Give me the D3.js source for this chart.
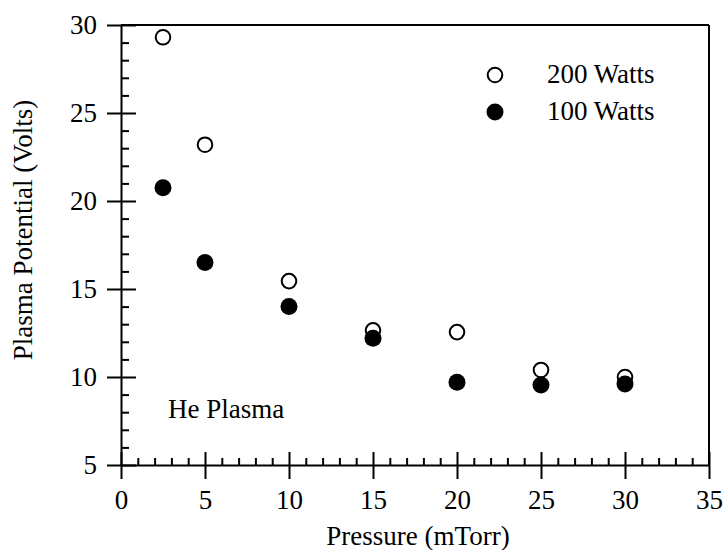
<!DOCTYPE html>
<html>
<head>
<meta charset="utf-8">
<script src="https://cdn.jsdelivr.net/npm/d3@7"></script>
<style>
  body { margin: 0; background: #fff; }
  svg { display: block; }
  svg text { font-family: "Liberation Serif", "Times New Roman", serif !important; fill: #000; }
  .axis path, .axis line { stroke: #000; stroke-width: 2; }
</style>
</head>
<body>
<svg id="chart" width="725" height="550" font-family="Liberation Serif"></svg>
<script>
// pressure (mTorr)
const pressure = [2.5, 5, 10, 15, 20, 25, 30];
// plasma potential (Volts)
const watts200 = [29.3, 23.2, 15.45, 12.65, 12.55, 10.4, 10.0];
const watts100 = [20.75, 16.5, 14.0, 12.2, 9.7, 9.55, 9.6];

const xTicks = [0, 5, 10, 15, 20, 25, 30, 35];
const yTicks = [5, 10, 15, 20, 25, 30];
const legendLabels = ["200 Watts", "100 Watts"];

const serif = "'Liberation Serif', 'Times New Roman', serif";
const svg = d3.select("#chart");
const plotL = 121, plotR = 709, plotT = 25, plotB = 465;

const x = d3.scaleLinear().domain([0, 35]).range([plotL, plotR]);
const y = d3.scaleLinear().domain([5, 30]).range([plotB, plotT]);

const xMinor = d3.range(0, 35, 1).filter(d => d % 5 != 0);
const yMinor = d3.range(5, 30, 1).filter(d => d % 5 != 0);

// frame top & right
svg.append("line")
    .attr("x1", plotL).attr("x2", plotR).attr("y1", plotT).attr("y2", plotT)
    .attr("stroke", "#000").attr("stroke-width", 2);
svg.append("line")
    .attr("x1", plotR).attr("x2", plotR).attr("y1", plotT).attr("y2", plotB)
    .attr("stroke", "#000").attr("stroke-width", 2);

// x axis: labelled ticks below, inner parts above
const gx = svg.append("g")
    .attr("class", "axis")
    .attr("transform", `translate(0,${plotB})`)
    .call(d3.axisBottom(x).tickValues(xTicks).tickSizeInner(14).tickSizeOuter(0).tickPadding(11))
    .attr("font-family", serif);
gx.selectAll("text").style("font-size", "27px").style("font-family", serif);

svg.append("g")
    .attr("class", "axis")
    .attr("transform", `translate(0,${plotB})`)
    .call(d3.axisTop(x).tickValues(xTicks).tickSize(13).tickFormat(""))
    .call(g => g.select(".domain").remove());

svg.append("g")
    .attr("class", "axis")
    .attr("transform", `translate(0,${plotB})`)
    .call(d3.axisTop(x).tickValues(xMinor).tickSize(7).tickFormat(""))
    .call(g => g.select(".domain").remove());

// y axis
const gy = svg.append("g")
    .attr("class", "axis")
    .attr("transform", `translate(${plotL},0)`)
    .call(d3.axisLeft(y).tickValues(yTicks).tickSizeInner(14).tickSizeOuter(0).tickPadding(10))
    .attr("font-family", serif);
gy.selectAll("text").style("font-size", "27px").style("font-family", serif);

svg.append("g")
    .attr("class", "axis")
    .attr("transform", `translate(${plotL},0)`)
    .call(d3.axisRight(y).tickValues(yTicks).tickSize(15).tickFormat(""))
    .call(g => g.select(".domain").remove());

svg.append("g")
    .attr("class", "axis")
    .attr("transform", `translate(${plotL},0)`)
    .call(d3.axisRight(y).tickValues(yMinor).tickSize(8).tickFormat(""))
    .call(g => g.select(".domain").remove());

// axis titles
svg.append("text")
    .attr("x", 418).attr("y", 545)
    .attr("text-anchor", "middle")
    .style("font-family", serif)
    .style("font-size", "27px")
    .text("Pressure (mTorr)");

svg.append("text")
    .attr("transform", "translate(32,230) rotate(-90)")
    .attr("text-anchor", "middle")
    .style("font-family", serif)
    .style("font-size", "27px")
    .text("Plasma Potential (Volts)");

// points
svg.append("g").selectAll("circle")
    .data(pressure.map((p, i) => [p, watts200[i]]))
    .join("circle")
    .attr("cx", d => x(d[0]))
    .attr("cy", d => y(d[1]))
    .attr("r", 7.3)
    .attr("fill", "#fff")
    .attr("stroke", "#000")
    .attr("stroke-width", 2);

svg.append("g").selectAll("circle")
    .data(pressure.map((p, i) => [p, watts100[i]]))
    .join("circle")
    .attr("cx", d => x(d[0]))
    .attr("cy", d => y(d[1]))
    .attr("r", 8.5)
    .attr("fill", "#000");

// legend
const legend = svg.append("g").attr("transform", "translate(495,75)");
legend.append("circle").attr("r", 7.3).attr("fill", "#fff")
    .attr("stroke", "#000").attr("stroke-width", 2);
legend.append("circle").attr("cy", 37).attr("r", 8.5).attr("fill", "#000");
legend.selectAll("text")
    .data(legendLabels)
    .join("text")
    .attr("x", 52)
    .attr("y", (d, i) => 8 + i * 37)
    .style("font-family", serif)
    .style("font-size", "27px")
    .text(d => d);

svg.append("text")
    .attr("x", 168).attr("y", 418)
    .style("font-family", serif)
    .style("font-size", "27px")
    .text("He Plasma");
</script>
</body>
</html>
